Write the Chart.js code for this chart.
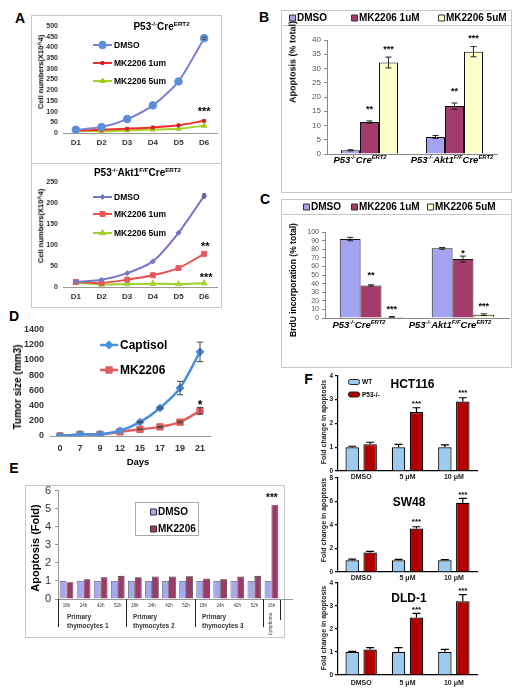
<!DOCTYPE html>
<html>
<head>
<meta charset="utf-8">
<script src="https://cdn.jsdelivr.net/npm/chart.js@4.4.0/dist/chart.umd.min.js"></script>
<style>
  body { margin: 0; width: 521px; height: 696px; background: #fff; position: relative; overflow: hidden;
         font-family: "Liberation Sans", Arial, sans-serif; color: #000; }
  sup { font-size: 62%; vertical-align: baseline; position: relative; top: -0.6em; }
  .box { position: absolute; border: 1px solid #c8c8c8; box-sizing: border-box; }
</style>
</head>
<body>
<script>
// ---------- data ----------
const aDays = ['D1', 'D2', 'D3', 'D4', 'D5', 'D6'];
const aTopDmso = [15, 28, 65, 129, 241, 443];
const aTop1um = [12, 15, 20, 26, 36, 57];
const aTop5um = [11, 8, 12, 16, 20, 34];
const aBotDmso = [12, 17, 33, 61, 129, 217];
const aBot1um = [12, 9.5, 17.5, 28, 45, 79];
const aBot5um = [10, 6, 7, 8, 7, 9];

const genotypeLabels = ['P53<sup>-/-</sup>Cre<sup>ERT2</sup>', 'P53<sup>-/-</sup>Akt1<sup>F/F</sup>Cre<sup>ERT2</sup>'];
const bDmso = [1.3, 6.0], bDmsoErr = [0.2, 0.5];
const b1uM = [11.2, 16.8], b1uMErr = [0.4, 1.1];
const b5uM = [32.1, 35.9], b5uMErr = [1.9, 1.8];

const cDmso = [91.8, 81], cDmsoErr = [2, 1];
const c1uM = [37.8, 68.5], c1uMErr = [0.8, 3.5];
const c5uM = [1.3, 3.8], c5uMErr = [0.3, 1];

const dDays = ['0', '7', '9', '12', '15', '17', '19', '21'];
const dCaptisol = [0, 21, 24, 70, 182, 368, 630, 1105];
const dCaptisolErr = [0, 0, 0, 0, 10, 15, 88, 128];
const dMk = [0, 21, 21, 55, 88, 120, 182, 330];
const dMkErr = [0, 0, 0, 0, 5, 8, 10, 45];

const eTimes = ['18h', '24h', '42h', '52h', '18h', '24h', '42h', '52h', '18h', '24h', '42h', '52h', '16h'];
const eGroups = ['Primary|thymocytes 1', 'Primary|thymocytes 2', 'Primary|thymocytes 3'];
const eGroupStarts = [0, 4, 8, 12];
const eDmso = [1, 1, 1, 1, 1, 1, 1, 1, 1, 1, 1, 1, 1];
const eMk = [0.93, 1.1, 1.2, 1.28, 1.2, 1.25, 1.24, 1.26, 1.14, 1.09, 1.25, 1.28, 5.22];

const fDoses = ['DMSO', '5 \u03bcM', '10 \u03bcM'];
const hctWt = [1, 1, 1], hctWtErr = [0.04, 0.12, 0.1];
const hctP53 = [1.13, 2.48, 2.92], hctP53Err = [0.08, 0.18, 0.16];
const swWt = [1, 1, 1], swWtErr = [0.1, 0.08, 0.06];
const swP53 = [1.66, 3.7, 5.9], swP53Err = [0.1, 0.15, 0.37];
const dldWt = [1, 1, 1], dldWtErr = [0.03, 0.19, 0.11];
const dldP53 = [1.11, 2.5, 3.2], dldP53Err = [0.08, 0.18, 0.29];

// ---------- plugins ----------
const errorBars = {
  id: 'errorBars',
  afterDatasetsDraw(chart, args, opts) {
    if (!opts || !opts.errs) return;
    const ctx = chart.ctx, y = chart.scales.y;
    ctx.save();
    ctx.strokeStyle = opts.color || '#000';
    ctx.lineWidth = opts.width || 1;
    opts.errs.forEach((errs, di) => {
      if (!errs) return;
      const vals = chart.data.datasets[di].data;
      chart.getDatasetMeta(di).data.forEach((el, i) => {
        const e = errs[i];
        if (!e) return;
        const top = y.getPixelForValue(vals[i] + e);
        const bot = opts.upOnly ? y.getPixelForValue(vals[i]) : y.getPixelForValue(vals[i] - e);
        const c = opts.cap || 3;
        ctx.beginPath();
        ctx.moveTo(el.x, top); ctx.lineTo(el.x, bot);
        ctx.moveTo(el.x - c, top); ctx.lineTo(el.x + c, top);
        if (!opts.upOnly) { ctx.moveTo(el.x - c, bot); ctx.lineTo(el.x + c, bot); }
        ctx.stroke();
      });
    });
    ctx.restore();
  }
};

const stars = {
  id: 'stars',
  afterDatasetsDraw(chart, args, opts) {
    if (!opts || !opts.items) return;
    const ctx = chart.ctx, y = chart.scales.y;
    ctx.save();
    ctx.font = opts.font;
    ctx.fillStyle = '#000';
    ctx.textAlign = 'center';
    ctx.textBaseline = 'alphabetic';
    opts.items.forEach(s => {
      const el = chart.getDatasetMeta(s.ds).data[s.i];
      const v = chart.data.datasets[s.ds].data[s.i] + (s.err || 0);
      ctx.fillText(s.text, el.x + (s.dx || 0), y.getPixelForValue(v) - (s.dy || 0));
    });
    ctx.restore();
  }
};

const key = {
  id: 'key',
  afterDraw(chart, args, opts) {
    if (!opts || !opts.items) return;
    const ctx = chart.ctx;
    ctx.save();
    ctx.font = opts.font;
    ctx.textBaseline = 'middle';
    ctx.textAlign = 'left';
    opts.items.forEach(it => {
      const ds = chart.data.datasets[it.ds];
      let tx;
      if (opts.kind === 'line') {
        ctx.strokeStyle = ds.borderColor;
        ctx.lineWidth = ds.borderWidth;
        ctx.beginPath(); ctx.moveTo(it.x, it.y); ctx.lineTo(it.x + opts.len, it.y); ctx.stroke();
        ctx.fillStyle = ds.pointBackgroundColor;
        ctx.strokeStyle = ds.pointBorderColor;
        ctx.lineWidth = 1;
        Chart.helpers.drawPoint(ctx, { pointStyle: ds.pointStyle, radius: ds.pointRadius, borderWidth: 1, rotation: 0 }, it.x + opts.len / 2, it.y);
        tx = it.x + opts.len + 2;
      } else {
        const w = opts.w || 6, h = opts.h || 6;
        ctx.fillStyle = ds.backgroundColor;
        ctx.strokeStyle = opts.edge || '#333';
        ctx.lineWidth = 1;
        ctx.beginPath();
        if (ctx.roundRect && opts.round) ctx.roundRect(it.x + 0.5, it.y - h / 2, w, h, opts.round);
        else ctx.rect(it.x + 0.5, it.y - h / 2, w, h);
        ctx.fill(); ctx.stroke();
        tx = it.x + w + (opts.gap || 2);
      }
      ctx.fillStyle = opts.color || '#000';
      ctx.fillText(ds.label, tx, it.y + 0.5);
    });
    ctx.restore();
  }
};

Chart.register(errorBars, stars, key);
Chart.defaults.font.family = '"Liberation Sans", Arial, sans-serif';
Chart.defaults.plugins.legend.display = false;
Chart.defaults.plugins.tooltip.enabled = false;
Chart.defaults.animation = false;

// ---------- helpers ----------
const fixW = w => function (s) { s.width = w; };
const fixH = h => function (s) { s.height = h; };
const plain = v => String(v);

function mk(left, top, w, h, cfg, plugins) {
  const c = document.createElement('canvas');
  c.width = w; c.height = h;
  c.style.cssText = `position:absolute;left:${left}px;top:${top}px;width:${w}px;height:${h}px`;
  document.body.appendChild(c);
  cfg.options = Object.assign({ responsive: false, animation: false }, cfg.options);
  if (plugins) cfg.plugins = plugins;
  return new Chart(c, cfg);
}

function put(html, cx, cy, css, rot) {
  const d = document.createElement('div');
  d.innerHTML = html;
  d.style.cssText = `position:absolute;left:${cx}px;top:${cy}px;white-space:nowrap;line-height:1;${css};` +
    `transform:translate(-50%,-50%)${rot ? ' rotate(-90deg)' : ''}`;
  document.body.appendChild(d);
}

function putL(html, x, cy, css) {
  const d = document.createElement('div');
  d.innerHTML = html;
  d.style.cssText = `position:absolute;left:${x}px;top:${cy}px;white-space:nowrap;line-height:1;${css};transform:translateY(-50%)`;
  document.body.appendChild(d);
}

function box(l, t, r, b, css) {
  const d = document.createElement('div');
  d.className = 'box';
  d.style.cssText = `left:${l}px;top:${t}px;width:${r - l}px;height:${b - t}px;${css || ''}`;
  document.body.appendChild(d);
}

function lineSet(label, data, line, marker, style, r) {
  return {
    label, data, borderColor: line, backgroundColor: marker, borderWidth: 2,
    pointStyle: style, pointRadius: r, pointBackgroundColor: marker, pointBorderColor: marker,
    pointBorderWidth: 1, tension: 0.25
  };
}

// ---------- frames ----------
box(31, 15, 222, 164);
box(31, 163, 222, 308);
box(281, 10, 512, 193);
box(281, 10, 512, 26);
box(281, 199, 512, 368);
box(281, 199, 512, 215);
box(25, 485, 285, 638);
box(135, 502, 199, 536, 'border-color:#aaa');

// panel letters
const letterCss = 'font-weight:bold;font-size:14px';
put('A', 20, 17.5, letterCss);
put('B', 264, 17, letterCss);
put('C', 265, 199, letterCss);
put('D', 14, 316, letterCss);
put('E', 14, 467.5, letterCss);
put('F', 308.5, 379, letterCss);

// ---------- A (top) ----------
const aTick = { font: { size: 7, weight: 'bold' }, color: '#333', autoSkip: false, callback: plain };
mk(31, 15, 191, 148, {
  type: 'line',
  data: { labels: aDays, datasets: [
    lineSet('DMSO', aTopDmso, '#7c80d2', '#5b90d8', 'circle', 3.8),
    lineSet('MK2206 1um', aTop1um, '#f02c2c', '#d81e1e', 'rect', 2),
    lineSet('MK2206 5um', aTop5um, '#a8d22a', '#9ccc22', 'triangle', 3)
  ] },
  options: {
    layout: { padding: { left: 0, top: 11, right: 2, bottom: 0 } },
    scales: {
      x: { offset: true, afterFit: fixH(30), grid: { display: false, drawTicks: false }, border: { color: '#999' },
           ticks: { font: { size: 8, weight: 'bold' }, color: '#333', padding: 5 } },
      y: { min: 0, max: 500, afterFit: fixW(32), grid: { display: false, drawTicks: false }, border: { display: false },
           ticks: Object.assign({ stepSize: 50, padding: 5 }, aTick) }
    },
    plugins: {
      errorBars: { errs: [[0, 0, 0, 0, 0, 6]], color: '#555', cap: 2 },
      key: { kind: 'line', len: 19, font: 'bold 8.5px "Liberation Sans", Arial',
             items: [{ ds: 0, x: 62, y: 30 }, { ds: 1, x: 62, y: 48 }, { ds: 2, x: 62, y: 66 }] },
      stars: { font: 'bold 11px "Liberation Sans", Arial', items: [{ ds: 1, i: 5, text: '***', dy: 6 }] }
    }
  }
});
put('P53<sup>-/-</sup>Cre<sup>ERT2</sup>', 161.5, 26.5, 'font-weight:bold;font-size:10px');
put('Cell numbers(X10^4)', 41, 72, 'font-weight:bold;font-size:7.5px', true);

// ---------- A (bottom) ----------
mk(31, 163, 191, 144, {
  type: 'line',
  data: { labels: aDays, datasets: [
    lineSet('DMSO', aBotDmso, '#7577c9', '#7577c9', 'rectRot', 2.5),
    lineSet('MK2206 1um', aBot1um, '#e8504f', '#e55a5a', 'rect', 3.5),
    lineSet('MK2206 5um', aBot5um, '#9fd02c', '#a4d232', 'triangle', 3.5)
  ] },
  options: {
    layout: { padding: { left: 0, top: 19, right: 5, bottom: 0 } },
    scales: {
      x: { offset: true, afterFit: fixH(20), grid: { display: false, drawTicks: false }, border: { color: '#999' },
           ticks: { font: { size: 8, weight: 'bold' }, color: '#333', padding: 5 } },
      y: { min: 0, max: 250, afterFit: fixW(32), grid: { display: false, drawTicks: false }, border: { display: false },
           ticks: Object.assign({ stepSize: 50, padding: 5 }, aTick) }
    },
    plugins: {
      errorBars: { errs: [[0, 0, 0, 0, 0, 5]], color: '#555', cap: 2 },
      key: { kind: 'line', len: 19, font: 'bold 8.5px "Liberation Sans", Arial',
             items: [{ ds: 0, x: 62, y: 34 }, { ds: 1, x: 62, y: 51 }, { ds: 2, x: 62, y: 70 }] },
      stars: { font: 'bold 11px "Liberation Sans", Arial', items: [
        { ds: 1, i: 5, text: '**', dy: 4, dx: 1 }, { ds: 2, i: 5, text: '***', dy: 2.5, dx: 2 }] }
    }
  }
});
put('P53<sup>-/-</sup>Akt1<sup>F/F</sup>Cre<sup>ERT2</sup>', 137.5, 173, 'font-weight:bold;font-size:10px');
put('Cell numbers(X10^4)', 41, 226, 'font-weight:bold;font-size:7.5px', true);

// ---------- B and C (grouped bars) ----------
function barSet(label, data, color) {
  return { label, data, backgroundColor: color, borderColor: '#111', borderWidth: 1,
           barPercentage: 1 };
}
const bcKeyFont = 'bold 10px "Liberation Sans", Arial';
mk(281, 10, 231, 182, {
  type: 'bar',
  data: { labels: ['g1', 'g2'], datasets: [
    barSet('DMSO', bDmso, '#a3a3f2'),
    barSet('MK2206 1uM', b1uM, '#a33c6c'),
    barSet('MK2206 5uM', b5uM, '#ffffcc')
  ] },
  options: {
    datasets: { bar: { categoryPercentage: 0.67 } },
    layout: { padding: { left: 0, top: 30, right: 15, bottom: 0 } },
    scales: {
      x: { afterFit: fixH(38), grid: { display: false, drawTicks: false }, border: { color: '#888' }, ticks: { display: false } },
      y: { min: 0, max: 40, afterFit: fixW(46), border: { color: '#888' },
           grid: { drawOnChartArea: false, tickLength: 3, color: '#888' },
           ticks: { stepSize: 5, autoSkip: false, font: { size: 8 }, color: '#555', padding: 3 } }
    },
    plugins: {
      errorBars: { errs: [bDmsoErr, b1uMErr, b5uMErr], color: '#222', cap: 3 },
      key: { kind: 'box', font: bcKeyFont, w: 6, h: 6, gap: 2,
             items: [{ ds: 0, x: 8, y: 8 }, { ds: 1, x: 70, y: 8 }, { ds: 2, x: 157, y: 8 }] },
      stars: { font: 'bold 9px "Liberation Sans", Arial', items: [
        { ds: 1, i: 0, err: b1uMErr[0], text: '**', dy: 9 },
        { ds: 2, i: 0, err: b5uMErr[0], text: '***', dy: 5 },
        { ds: 1, i: 1, err: b1uMErr[1], text: '**', dy: 9 },
        { ds: 2, i: 1, err: b5uMErr[1], text: '***', dy: 6 }] }
    }
  }
});
put('Apoptosis (% total)', 293, 62, 'font-weight:bold;font-size:9px', true);
put(genotypeLabels[0], 360, 160, 'font-weight:bold;font-style:italic;font-size:9.5px');
put(genotypeLabels[1], 452, 160, 'font-weight:bold;font-style:italic;font-size:9.5px');

mk(281, 199, 231, 168, {
  type: 'bar',
  data: { labels: ['g1', 'g2'], datasets: [
    barSet('DMSO', cDmso, '#a3a3f2'),
    barSet('MK2206 1uM', c1uM, '#a33c6c'),
    barSet('MK2206 5uM', c5uM, '#ffffcc')
  ] },
  options: {
    datasets: { bar: { categoryPercentage: 0.68 } },
    layout: { padding: { left: 0, top: 33, right: 3, bottom: 0 } },
    scales: {
      x: { afterFit: fixH(49), grid: { display: false, drawTicks: false }, border: { color: '#888' }, ticks: { display: false } },
      y: { min: 0, max: 100, afterFit: fixW(44), border: { color: '#888' },
           grid: { drawOnChartArea: false, tickLength: 3, color: '#888' },
           ticks: { stepSize: 10, autoSkip: false, font: { size: 7 }, color: '#555', padding: 3 } }
    },
    plugins: {
      errorBars: { errs: [cDmsoErr, c1uMErr, c5uMErr], color: '#222', cap: 3 },
      key: { kind: 'box', font: bcKeyFont, w: 6, h: 6, gap: 2,
             items: [{ ds: 0, x: 22, y: 8 }, { ds: 1, x: 70, y: 8 }, { ds: 2, x: 146, y: 8 }] },
      stars: { font: 'bold 9px "Liberation Sans", Arial', items: [
        { ds: 1, i: 0, err: c1uMErr[0], text: '**', dy: 7 },
        { ds: 2, i: 0, err: c5uMErr[0], text: '***', dy: 5 },
        { ds: 1, i: 1, err: c1uMErr[1], text: '*', dy: 0 },
        { ds: 2, i: 1, err: c5uMErr[1], text: '***', dy: 5 }] }
    }
  }
});
put('BrdU incorporation (% total)', 293, 280, 'font-weight:bold;font-size:8.5px', true);
put(genotypeLabels[0], 359, 325, 'font-weight:bold;font-style:italic;font-size:9.5px');
put(genotypeLabels[1], 450, 325, 'font-weight:bold;font-style:italic;font-size:9.5px');

// ---------- D ----------
const dCap = lineSet('Captisol', dCaptisol, '#4a8ede', '#4a8ede', 'rectRot', 4);
const dMkSet = lineSet('MK2206', dMk, '#e35d5d', '#e35d5d', 'rect', 4.5);
dCap.borderWidth = 2.5; dMkSet.borderWidth = 2.5;
mk(0, 318, 230, 152, {
  type: 'line',
  data: { labels: dDays, datasets: [dCap, dMkSet] },
  options: {
    layout: { padding: { left: 0, top: 8, right: 20, bottom: 0 } },
    scales: {
      x: { offset: true, afterFit: fixH(34), grid: { display: false, drawTicks: false }, border: { color: '#999' },
           ticks: { font: { size: 9, weight: 'bold' }, color: '#333', padding: 7 } },
      y: { min: 0, max: 1400, afterFit: fixW(50), grid: { display: false, drawTicks: false }, border: { display: false },
           ticks: { stepSize: 200, autoSkip: false, callback: plain, font: { size: 9, weight: 'bold' }, color: '#333', padding: 6 } }
    },
    plugins: {
      errorBars: { errs: [dCaptisolErr, dMkErr], color: '#444', cap: 3 },
      key: { kind: 'line', len: 18, font: 'bold 12px "Liberation Sans", Arial',
             items: [{ ds: 0, x: 100, y: 27 }, { ds: 1, x: 100, y: 52 }] },
      stars: { font: 'bold 12px "Liberation Sans", Arial', items: [{ ds: 1, i: 7, err: dMkErr[7], text: '*', dy: -2 }] }
    }
  }
});
put('Tumor size (mm3)', 18, 387, 'font-weight:bold;font-size:10px', true);
put('Days', 138, 462, 'font-weight:bold;font-size:9.5px');

// ---------- E ----------
const eSeps = {
  id: 'eSeps',
  afterDraw(chart) {
    const x = chart.scales.x, ctx = chart.ctx, b = chart.chartArea.bottom;
    const half = (x.getPixelForValue(1) - x.getPixelForValue(0)) / 2;
    ctx.save();
    ctx.strokeStyle = '#222';
    ctx.lineWidth = 1;
    ctx.beginPath();
    eGroupStarts.forEach(i => {
      const px = Math.round(x.getPixelForValue(i) - half) + 0.5;
      ctx.moveTo(px, b); ctx.lineTo(px, b + 28);
    });
    const end = Math.round(x.getPixelForValue(eTimes.length - 1) + half) + 0.5;
    ctx.moveTo(end, b); ctx.lineTo(end, b + 21);
    ctx.stroke();
    ctx.strokeStyle = '#999';
    ctx.beginPath();
    ctx.moveTo(chart.chartArea.right, b + 0.5); ctx.lineTo(chart.chartArea.right + 13, b + 0.5);
    ctx.stroke();
    ctx.restore();
  }
};
mk(25, 480, 270, 157, {
  type: 'bar',
  data: { labels: eTimes, datasets: [
    { label: 'DMSO', data: eDmso, backgroundColor: '#a8a8f2', borderColor: '#555', borderWidth: 0.8, barPercentage: 1, categoryPercentage: 0.8 },
    { label: 'MK2206', data: eMk, backgroundColor: '#9c3a6a', borderColor: '#333', borderWidth: 0.8, barPercentage: 1, categoryPercentage: 0.8 }
  ] },
  options: {
    layout: { padding: { left: 0, top: 6, right: 15, bottom: 0 } },
    scales: {
      x: { afterFit: fixH(38), grid: { display: false, drawTicks: false }, border: { color: '#999' },
           ticks: { autoSkip: false, maxRotation: 0, font: { size: 4.5 }, color: '#333', padding: 4.5 } },
      y: { min: 0, max: 6, afterFit: fixW(33), border: { color: '#999' },
           grid: { drawOnChartArea: false, tickLength: 3, color: '#999' },
           ticks: { stepSize: 1, autoSkip: false, font: { size: 11 }, color: '#333', padding: 4 } }
    },
    plugins: {
      key: { kind: 'box', font: 'bold 10px "Liberation Sans", Arial', w: 6, h: 6, gap: 2, edge: '#333',
             items: [{ ds: 0, x: 125, y: 32 }, { ds: 1, x: 125, y: 49 }] },
      stars: { font: 'bold 10px "Liberation Sans", Arial', items: [{ ds: 1, i: 12, text: '***', dy: 4, dx: -3 }] }
    }
  }
}, [eSeps]);
put('Apoptosis (Fold)', 35, 548, 'font-weight:bold;font-size:11px', true);
const eGroupX = [67, 133, 202];
eGroups.forEach((g, k) => {
  const [l1, l2] = g.split('|');
  putL(l1, eGroupX[k], 617, 'font-weight:bold;font-size:6.5px;color:#333');
  putL(l2, eGroupX[k], 626, 'font-weight:bold;font-size:6.5px;color:#333');
});
put('Lymphoma', 271, 624, 'font-size:4.5px;color:#333', true);

// ---------- F ----------
function fPanel(top, areaTop, xh, wt, wtErr, p53, p53Err, max, step, starDy, legend, tickPad) {
  const opts = {
    layout: { padding: { left: 0, top: areaTop, right: 8, bottom: 0 } },
    scales: {
      x: { afterFit: fixH(xh), grid: { display: false, drawTicks: false }, border: { color: '#000', width: 1.2 },
           ticks: { font: { size: 7, weight: 'bold' }, color: '#222', padding: tickPad } },
      y: { min: 0, max, afterFit: fixW(28), border: { color: '#000', width: 1.2 },
           grid: { drawOnChartArea: false, tickLength: 3, color: '#000', lineWidth: 1.2 },
           ticks: { stepSize: step, autoSkip: false, font: { size: 6.5, weight: 'bold' }, color: '#222', padding: 2 } }
    },
    plugins: {
      errorBars: { errs: [wtErr, p53Err], upOnly: true, color: '#000', width: 1.2, cap: 4 },
      stars: { font: 'bold 8px "Liberation Sans", Arial', items: [
        { ds: 1, i: 1, err: p53Err[1], text: '***', dy: starDy[0] },
        { ds: 1, i: 2, err: p53Err[2], text: '***', dy: starDy[1] }] }
    }
  };
  if (legend) {
    opts.plugins.key = { kind: 'box', font: 'bold 6.5px "Liberation Sans", Arial', w: 11, h: 5, gap: 3, round: 2, edge: '#222',
                         items: [{ ds: 0, x: 38, y: 12 }, { ds: 1, x: 38, y: 24.5 }] };
  }
  mk(310, top, 175, 112, {
    type: 'bar',
    data: { labels: fDoses, datasets: [
      { label: 'WT', data: wt, backgroundColor: '#9dcbf0', borderColor: '#000', borderWidth: 1.2, categoryPercentage: 0.774, barPercentage: 0.75 },
      { label: 'P53-/-', data: p53, backgroundColor: '#b00000', borderColor: '#000', borderWidth: 1.2, categoryPercentage: 0.774, barPercentage: 0.75 }
    ] },
    options: opts
  });
}
fPanel(370, 5, 11, hctWt, hctWtErr, hctP53, hctP53Err, 4, 1, [1.5, 3], true, 2);
fPanel(472, 6, 12, swWt, swWtErr, swP53, swP53Err, 8, 2, [3, 1], false, 2);
fPanel(577, 5, 14, dldWt, dldWtErr, dldP53, dldP53Err, 4, 1, [1, 1.5], false, 4);

put('HCT116', 412.5, 384, 'font-weight:bold;font-size:12px');
put('SW48', 409, 502, 'font-weight:bold;font-size:12px');
put('DLD-1', 409, 597.5, 'font-weight:bold;font-size:12px');
const fYTitle = 'font-weight:bold;font-size:7px;color:#222';
put('Fold change in apoptosis', 323, 422, fYTitle, true);
put('Fold change in apoptosis', 323, 520, fYTitle, true);
put('Fold change in apoptosis', 323, 628, fYTitle, true);
</script>
</body>
</html>
